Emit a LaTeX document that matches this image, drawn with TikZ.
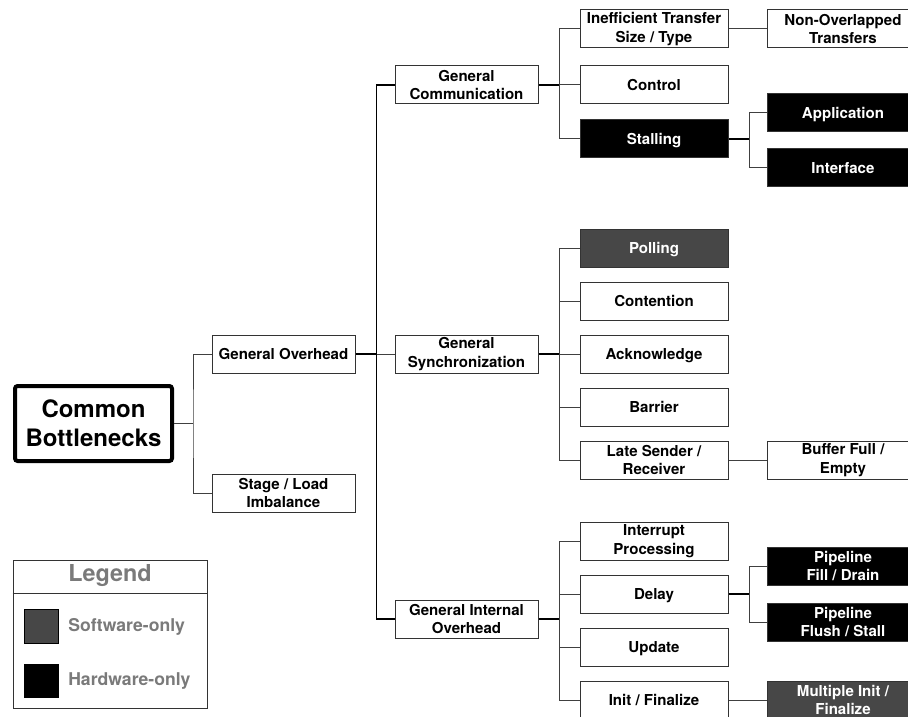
\documentclass[tikz,border=0pt]{standalone}
\usepackage{fontspec}
\setmainfont{TeX Gyre Heros}
\definecolor{swgray}{HTML}{474747}
\definecolor{lgtext}{HTML}{7A7A7A}
\definecolor{boxline}{HTML}{333333}
\newcommand\cfshift{\hspace*{-5.25pt}}
\begin{document}
\begin{tikzpicture}[x=0.75pt,y=-0.75pt,
  box/.style={draw=boxline,line width=0.75pt,minimum width=107.25pt,minimum height=28.5pt,inner sep=0pt,align=center,font=\bfseries\fontsize{11.3}{14}\selectfont},
  wide/.style={box,minimum width=111pt},
  edge/.style={box,minimum width=118pt},
  oneline/.style={text height=8.1pt,text depth=0pt},
  sw/.style={fill=swgray,text=white},
  hw/.style={fill=black,text=white},
  conn/.style={draw=black!75,line width=0.75pt},
  bus/.style={draw=black,line width=0.9pt},
  stub/.style={draw=black,line width=1.2pt}]
\useasboundingbox (0,0) rectangle (908,717);
\clip (0,0) rectangle (908,717);
\fill[white] (0,0) rectangle (908,717);

% root
\node[draw=black,line width=3pt,rounded corners=2pt,minimum width=117.75pt,minimum height=56.25pt,inner sep=0pt,align=center,font=\bfseries\fontsize{18}{21.75}\selectfont] (cb) at (93.5,423.5) {Common\\Bottlenecks};

% column 2
\node[box,oneline] (go) at (283.5,354) {General Overhead};
\node[box] (sl) at (283.5,493) {Stage / Load\\Imbalance};

% column 3
\node[box] (gc) at (466.5,85) {General\\Communication};
\node[box] (gs) at (466.5,354) {General\\Synchronization};
\node[box] (gio) at (466.5,619) {General Internal\\Overhead};

% column 4
\node[wide] (it) at (654,29) {Inefficient Transfer\\Size / Type};
\node[wide,oneline] (ctl) at (654,85) {Control};
\node[wide,oneline,hw] (stall) at (654,139) {Stalling};
\node[wide,oneline,sw] (poll) at (654,248) {Polling};
\node[wide,oneline] (cont) at (654,301) {Contention};
\node[wide,oneline] (ack) at (654,354) {Acknowledge};
\node[wide,oneline] (bar) at (654,407) {Barrier};
\node[wide] (late) at (654,460) {Late Sender /\\Receiver};
\node[wide] (intr) at (654,541) {Interrupt\\Processing};
\node[wide,oneline] (delay) at (654,594) {Delay};
\node[wide,oneline] (upd) at (654,647) {Update};
\node[wide,oneline] (init) at (654,700) {Init / Finalize};

% column 5 (runs past the right edge; text centred at 843)
\node[edge] (no) at (846.5,29) {\cfshift Non-Overlapped\\\cfshift Transfers};
\node[edge,oneline,hw] (app) at (846.5,113) {\cfshift Application};
\node[edge,oneline,hw] (intf) at (846.5,168) {\cfshift Interface};
\node[edge] (buf) at (846.5,460) {\cfshift Buffer Full /\\\cfshift Empty};
\node[edge,hw] (pfill) at (846.5,566) {\cfshift Pipeline\\\cfshift Fill / Drain};
\node[edge,hw] (pflush) at (846.5,622) {\cfshift Pipeline\\\cfshift Flush / Stall};
\node[edge,sw] (minit) at (846.5,700) {\cfshift Multiple Init /\\\cfshift Finalize};

% connectors: root
\draw[conn] (cb.east) -- ++(19,0) coordinate (b1);
\draw[conn] (go.west) -| (b1) |- (sl.west);

% general overhead
\draw[stub] (go.east) -- ++(21,0) coordinate (b2);
\draw[bus] (gc.west) -| (b2) |- (gio.west);
\draw[conn] (b2) -- (gs.west);

% general communication
\draw[stub] (gc.east) -- ++(21,0) coordinate (b3);
\draw[conn] (it.west) -| (b3) |- (stall.west);
\draw[conn] (b3) -- (ctl.west);

% general synchronization
\draw[stub] (gs.east) -- ++(21,0) coordinate (b4);
\draw[conn] (poll.west) -| (b4) |- (late.west);
\draw[conn] (b4 |- cont.west) -- (cont.west);
\draw[conn] (b4) -- (ack.west);
\draw[conn] (b4 |- bar.west) -- (bar.west);

% general internal overhead
\draw[stub] (gio.east) -- ++(21,0) coordinate (b5);
\draw[conn] (intr.west) -| (b5) |- (init.west);
\draw[conn] (b5 |- delay.west) -- (delay.west);
\draw[conn] (b5 |- upd.west) -- (upd.west);

% column 4 -> 5
\draw[conn] (it.east) -- (it.east -| no.west);
\draw[stub] (stall.east) -- ++(21,0) coordinate (b6);
\draw[conn] (app.west) -| (b6) |- (intf.west);
\draw[conn] (late.east) -- (late.east -| buf.west);
\draw[stub] (delay.east) -- ++(21,0) coordinate (b7);
\draw[conn] (pfill.west) -| (b7) |- (pflush.west);
\draw[conn] (init.east) -- (init.east -| minit.west);

% legend
\node[draw=boxline,line width=0.75pt,minimum width=145.5pt,minimum height=111pt,inner sep=0pt] (lg) at (110,634) {};
\node[font=\bfseries\fontsize{17.5}{20}\selectfont,text=lgtext] (lgt) at (110,576) {Legend};
\coordinate (sep) at (0,593);
\draw[draw=boxline,line width=0.75pt] (lg.west |- sep) -- (lg.east |- sep);
\node[draw=black,line width=0.6pt,fill=swgray,minimum width=25.5pt,minimum height=25pt,inner sep=0pt] (sws) at (41,626.5) {};
\node[draw=black,line width=0.6pt,fill=black,minimum width=25.5pt,minimum height=25pt,inner sep=0pt] (hws) at (41,681) {};
\node[anchor=west,inner sep=0pt,text=lgtext,font=\bfseries\fontsize{13.2}{15}\selectfont] (swt) at (68,627) {Software-only};
\node[anchor=west,inner sep=0pt,text=lgtext,font=\bfseries\fontsize{13.2}{15}\selectfont] (hwt) at (68,681) {Hardware-only};
\end{tikzpicture}
\end{document}
